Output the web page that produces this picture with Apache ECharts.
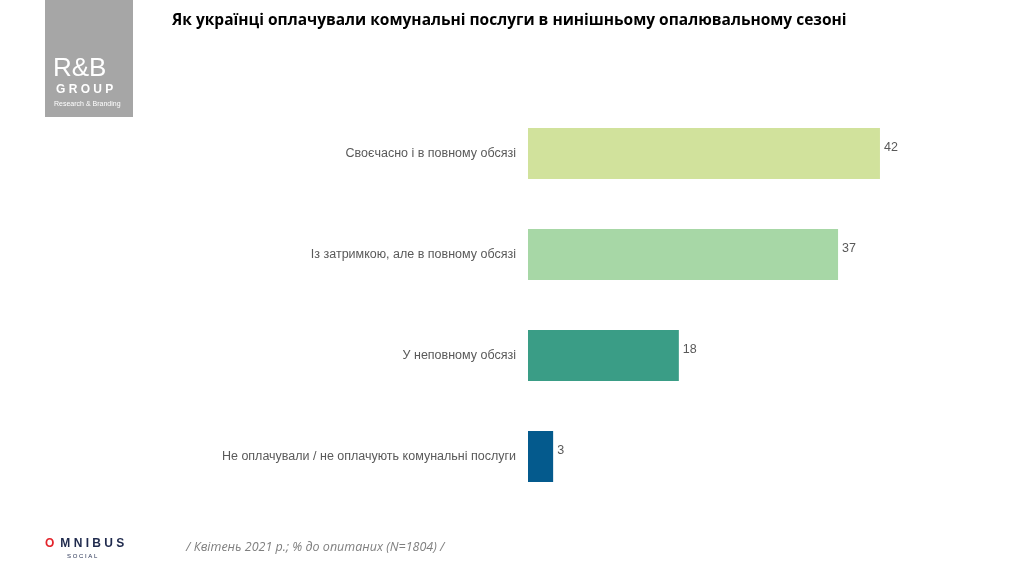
<!doctype html>
<html>
<head>
<meta charset="UTF-8">
<title>chart</title>
<script src="https://cdn.jsdelivr.net/npm/echarts@6/dist/echarts.min.js"></script>
<style>html,body{margin:0;padding:0;background:#fff}</style>
</head>
<body>
<div id="main" style="width:1024px;height:576px;"></div>
<script>
var categories = ['Своєчасно і в повному обсязі', 'Із затримкою, але в повному обсязі', 'У неповному обсязі', 'Не оплачували / не оплачують комунальні послуги'];
var values = [42, 37, 18, 3];
var colors = ['#d1e29c', '#a7d7a6', '#3a9d86', '#045a8d'];

var chart = echarts.init(document.getElementById('main'));
chart.setOption({
    animation: false,
    grid: {left: 528, right: 77, top: 103, bottom: 69},
    xAxis: {type: 'value', min: 0, max: 50, show: false},
    yAxis: {
        type: 'category', inverse: true, data: categories,
        axisLine: {show: false}, axisTick: {show: false},
        axisLabel: {color: '#595959', fontSize: 12.5, fontFamily: 'Liberation Sans', margin: 12}
    },
    series: [{
        type: 'bar', barWidth: 51,
        data: values.map(function (v, i) { return {value: v, itemStyle: {color: colors[i]}}; }),
        label: {show: true, position: 'right', color: '#595959', fontSize: 12.5, fontFamily: 'Liberation Sans', distance: 4, offset: [0, -6]}
    }],
    graphic: [
        {type: 'rect', left: 45, top: 0, shape: {width: 88, height: 117}, style: {fill: '#a6a6a6'}},
        {type: 'text', left: 53, top: 56, style: {text: 'R&B', fill: '#fff', font: '26px Liberation Sans'}},
        {type: 'text', left: 56, top: 84, style: {text: 'G R O U P', fill: '#fff', font: 'bold 12px Liberation Sans'}},
        {type: 'text', left: 54, top: 101, style: {text: 'Research & Branding', fill: '#fff', font: '7px Liberation Sans'}},
        {type: 'text', left: 172, top: 13, style: {text: 'Як українці оплачували комунальні послуги в нинішньому опалювальному сезоні', fill: '#000', font: 'bold 15.5px Open Sans'}},
        {type: 'text', left: 45, top: 538, style: {text: 'O', fill: '#e3242b', font: 'bold 12px Liberation Sans'}},
        {type: 'text', left: 57, top: 538, style: {text: ' M N I B U S', fill: '#1f2a4d', font: 'bold 12px Liberation Sans'}},
        {type: 'text', left: 67, top: 553, style: {text: 'S O C I A L', fill: '#1f2a4d', font: '6px Liberation Sans'}},
        {type: 'text', left: 186, top: 541, style: {text: '/ Квітень 2021 р.; % до опитаних (N=1804) /', fill: '#7f7f7f', font: 'italic 12.5px Open Sans'}}
    ]
});
</script>
</body>
</html>
